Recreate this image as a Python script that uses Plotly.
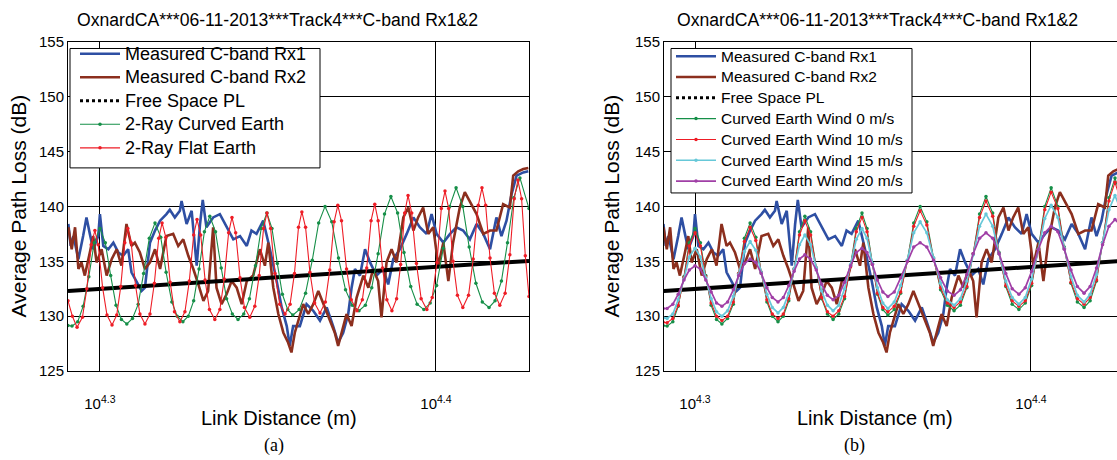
import numpy as np
import plotly.graph_objects as go

# ---------------- data (x given as log10 of link distance in metres) ----------------
rx1_logd = [4.2906, 4.2913, 4.2921, 4.2936, 4.2950, 4.2960, 4.2970, 4.2980, 4.2995, 4.3000,
            4.3010, 4.3025, 4.3040, 4.3055, 4.3069, 4.3084, 4.3094, 4.3109, 4.3124, 4.3134,
            4.3149, 4.3164, 4.3179, 4.3198, 4.3208, 4.3223, 4.3238, 4.3243, 4.3258, 4.3273,
            4.3288, 4.3298, 4.3306, 4.3317, 4.3337, 4.3357, 4.3377, 4.3397, 4.3417, 4.3437,
            4.3451, 4.3466, 4.3486, 4.3506, 4.3526, 4.3541, 4.3556, 4.3565, 4.3575, 4.3595,
            4.3615, 4.3635, 4.3655, 4.3675, 4.3694, 4.3709, 4.3724, 4.3739, 4.3749, 4.3759,
            4.3774, 4.3789, 4.3804, 4.3823, 4.3843, 4.3858, 4.3873, 4.3893, 4.3913, 4.3933,
            4.3952, 4.3972, 4.3987, 4.4002, 4.4022, 4.4042, 4.4061, 4.4081, 4.4101, 4.4121,
            4.4141, 4.4161, 4.4180, 4.4195, 4.4210, 4.4225, 4.4240, 4.4260, 4.4275]
rx1_pl = [138.4, 136.4, 137.3, 135.2, 137.3, 139.0, 137.5, 136.1, 137.3, 139.3,
          136.4, 136.1, 136.7, 135.8, 135.5, 136.1, 134.0, 133.2, 132.3, 132.6,
          136.7, 137.8, 138.7, 139.3, 139.7, 139.0, 139.6, 140.5, 138.4, 139.6,
          134.6, 138.4, 140.6, 138.1, 139.0, 139.3, 138.1, 137.0, 137.3, 136.4,
          137.8, 137.5, 138.7, 136.1, 133.2, 130.8, 129.1, 127.3, 129.1, 129.1,
          131.1, 130.5, 129.6, 130.8, 129.1, 127.6, 128.5, 130.2, 132.6, 134.3,
          133.7, 136.1, 134.9, 133.7, 134.3, 132.9, 135.2, 136.1, 137.5, 139.0,
          138.1, 137.5, 139.3, 137.5, 136.7, 137.5, 138.1, 137.8, 137.0, 138.4,
          137.5, 136.1, 139.0, 137.3, 138.7, 141.1, 142.8, 143.1, 143.2]

rx2_logd = [4.2906, 4.2916, 4.2926, 4.2936, 4.2945, 4.2955, 4.2970, 4.2980, 4.2990, 4.3005,
            4.3020, 4.3035, 4.3050, 4.3064, 4.3079, 4.3094, 4.3104, 4.3119, 4.3134, 4.3149,
            4.3164, 4.3179, 4.3198, 4.3218, 4.3233, 4.3248, 4.3263, 4.3278, 4.3293, 4.3308,
            4.3322, 4.3337, 4.3347, 4.3362, 4.3377, 4.3392, 4.3407, 4.3422, 4.3437, 4.3456,
            4.3476, 4.3491, 4.3501, 4.3516, 4.3531, 4.3546, 4.3560, 4.3570, 4.3580, 4.3590,
            4.3605, 4.3620, 4.3635, 4.3650, 4.3665, 4.3684, 4.3699, 4.3709, 4.3719, 4.3734,
            4.3749, 4.3764, 4.3784, 4.3799, 4.3813, 4.3828, 4.3838, 4.3853, 4.3868, 4.3883,
            4.3903, 4.3918, 4.3933, 4.3947, 4.3962, 4.3977, 4.3992, 4.4007, 4.4022, 4.4037,
            4.4051, 4.4071, 4.4086, 4.4101, 4.4121, 4.4141, 4.4161, 4.4180, 4.4200, 4.4220,
            4.4230, 4.4245, 4.4260, 4.4275]
rx2_pl = [138.1, 136.1, 138.1, 134.3, 134.9, 133.7, 135.8, 137.3, 134.9, 136.1,
          133.7, 135.2, 136.1, 134.6, 138.4, 136.4, 136.7, 135.8, 134.3, 134.9,
          136.1, 134.3, 137.3, 137.5, 136.4, 137.0, 135.5, 134.3, 132.9, 131.4,
          132.3, 138.1, 132.6, 131.1, 132.0, 133.2, 132.6, 131.1, 133.2, 133.7,
          136.1, 134.6, 136.7, 132.6, 130.2, 128.5, 127.6, 126.7, 128.5, 129.6,
          131.1, 130.2, 131.1, 132.3, 131.1, 129.6, 128.5, 127.3, 128.5, 130.2,
          129.1, 131.7, 133.7, 132.6, 134.3, 133.2, 129.9, 134.9, 136.1, 134.9,
          139.0, 139.9, 137.8, 139.0, 139.9, 137.5, 138.1, 134.6, 136.7, 133.2,
          136.7, 139.9, 141.3, 140.5, 139.3, 137.5, 137.8, 137.8, 140.2, 139.9,
          142.8, 143.2, 143.4, 143.5]

fspl_logd = [4.2905, 4.3500, 4.4000, 4.4277]
fspl_pl = [132.30, 133.49, 134.49, 135.04]

# 2-ray curved earth (same as curved earth, wind 0 m/s)
curved_logd = [4.2905, 4.2917,
               4.2934, 4.2950, 4.2967, 4.2983, 4.3000,
               4.3016, 4.3032, 4.3048, 4.3064, 4.3080,
               4.3097, 4.3114, 4.3130, 4.3147, 4.3164,
               4.3181, 4.3197, 4.3214, 4.3230, 4.3247,
               4.3263, 4.3279, 4.3295, 4.3311, 4.3327,
               4.3344, 4.3361, 4.3377, 4.3394, 4.3411,
               4.3428, 4.3445, 4.3463, 4.3480, 4.3497,
               4.3512, 4.3528, 4.3543, 4.3559, 4.3574,
               4.3593, 4.3612, 4.3632, 4.3651, 4.3670,
               4.3690, 4.3710, 4.3731, 4.3751, 4.3771,
               4.3790, 4.3809, 4.3828, 4.3847, 4.3866,
               4.3886, 4.3905, 4.3925, 4.3944, 4.3964,
               4.3983, 4.4002, 4.4022, 4.4041, 4.4060,
               4.4080, 4.4099, 4.4119, 4.4138, 4.4158,
               4.4176, 4.4195, 4.4213, 4.4232, 4.4250,
               4.4277]
curved_pl = [129.15, 129.1,
             129.5, 130.9, 133.6, 136.7, 138.0,
             136.7, 133.7, 131.0, 129.7, 129.3,
             129.8, 131.1, 133.9, 137.1, 138.5,
             137.2, 134.0, 131.3, 130.0, 129.5,
             130.0, 131.4, 134.3, 137.7, 139.1,
             137.7, 134.4, 131.6, 130.2, 129.7,
             130.2, 131.6, 134.6, 138.0, 139.4,
             138.0, 134.8, 132.0, 130.6, 130.1,
             130.6, 132.1, 135.1, 138.5, 140.0,
             138.6, 135.3, 132.4, 131.0, 130.5,
             131.0, 132.6, 135.7, 139.3, 140.9,
             139.4, 135.8, 132.7, 131.1, 130.6,
             131.2, 132.8, 136.2, 140.0, 141.7,
             140.0, 136.3, 133.0, 131.3, 130.8,
             131.4, 133.2, 136.7, 140.8, 142.6,
             139.8]
wind10_pl = [129.45, 129.4,
             129.8, 131.0, 133.5, 136.4, 137.6,
             136.4, 133.6, 131.2, 130.0, 129.6,
             130.0, 131.3, 133.9, 136.8, 138.1,
             136.9, 134.0, 131.5, 130.2, 129.8,
             130.2, 131.6, 134.3, 137.4, 138.7,
             137.4, 134.4, 131.7, 130.4, 130.0,
             130.5, 131.8, 134.5, 137.7, 139.0,
             137.7, 134.7, 132.1, 130.8, 130.4,
             130.9, 132.2, 135.0, 138.2, 139.6,
             138.3, 135.2, 132.6, 131.2, 130.8,
             131.3, 132.7, 135.7, 139.0, 140.5,
             139.1, 135.7, 132.8, 131.4, 130.9,
             131.4, 133.0, 136.1, 139.7, 141.3,
             139.8, 136.2, 133.1, 131.6, 131.1,
             131.7, 133.3, 136.7, 140.5, 142.2,
             139.5]
wind15_pl = [129.85, 129.8,
             130.2, 131.5, 133.4, 135.4, 136.2,
             135.4, 133.5, 131.6, 130.4, 130.0,
             130.5, 131.8, 133.8, 135.9, 136.8,
             136.0, 134.0, 132.0, 130.8, 130.3,
             130.8, 132.1, 134.3, 136.5, 137.4,
             136.5, 134.4, 132.3, 131.0, 130.5,
             131.0, 132.5, 134.7, 137.0, 138.0,
             137.1, 134.8, 132.6, 131.2, 130.7,
             131.3, 132.8, 135.1, 137.6, 138.6,
             137.6, 135.3, 133.0, 131.5, 131.0,
             131.6, 133.2, 135.6, 138.2, 139.3,
             138.2, 135.7, 133.2, 131.7, 131.1,
             131.7, 133.4, 136.1, 138.9, 140.1,
             139.0, 136.2, 133.6, 131.9, 131.3,
             132.0, 133.8, 136.7, 139.7, 141.0,
             138.9]
wind20_pl = [130.7, 130.7,
             131.1, 132.0, 133.3, 134.2, 134.6,
             134.3, 133.3, 132.2, 131.2, 130.9,
             131.3, 132.4, 133.7, 134.8, 135.2,
             134.9, 133.9, 132.6, 131.7, 131.3,
             131.7, 132.8, 134.1, 135.2, 135.6,
             135.2, 134.2, 132.9, 131.9, 131.5,
             131.9, 133.1, 134.6, 135.8, 136.2,
             135.8, 134.7, 133.3, 132.2, 131.8,
             132.2, 133.5, 135.0, 136.3, 136.7,
             136.3, 135.1, 133.5, 132.3, 131.9,
             132.4, 133.8, 135.7, 137.1, 137.6,
             137.1, 135.7, 133.9, 132.5, 132.0,
             132.6, 134.1, 136.1, 137.6, 138.2,
             137.7, 136.1, 134.2, 132.7, 132.1,
             132.7, 134.4, 136.5, 138.2, 138.8,
             138.0]

# 2-ray flat earth
flat_logd = [4.2905, 4.2918, 4.2932,
             4.2948, 4.2961, 4.2974, 4.2985, 4.2995, 4.3008, 4.3021, 4.3036,
             4.3050, 4.3062, 4.3074, 4.3083, 4.3093, 4.3106, 4.3119, 4.3134,
             4.3149, 4.3162, 4.3175, 4.3185, 4.3196, 4.3209, 4.3222, 4.3238,
             4.3253, 4.3266, 4.3279, 4.3289, 4.3300, 4.3313, 4.3326, 4.3342,
             4.3357, 4.3370, 4.3383, 4.3393, 4.3404, 4.3417, 4.3430, 4.3446,
             4.3461, 4.3474, 4.3487, 4.3497, 4.3508, 4.3521, 4.3535, 4.3551,
             4.3566, 4.3579, 4.3591, 4.3601, 4.3612, 4.3625, 4.3639, 4.3655,
             4.3671, 4.3684, 4.3697, 4.3708, 4.3719, 4.3734, 4.3748, 4.3765,
             4.3781, 4.3794, 4.3807, 4.3818, 4.3828, 4.3841, 4.3854, 4.3869,
             4.3883, 4.3895, 4.3907, 4.3917, 4.3928, 4.3942, 4.3956, 4.3973,
             4.3989, 4.4003, 4.4016, 4.4027, 4.4038, 4.4051, 4.4064, 4.4080,
             4.4097, 4.4111, 4.4126, 4.4137, 4.4148, 4.4161, 4.4174, 4.4190,
             4.4206, 4.4220, 4.4233, 4.4244, 4.4255, 4.4266, 4.4277]
flat_pl = [131.4, 130.0, 129.0,
           129.9, 132.5, 136.5, 137.8, 136.5, 132.6, 130.1, 129.2,
           130.1, 132.7, 136.7, 138.0, 136.7, 132.8, 130.2, 129.3,
           130.2, 133.0, 137.1, 138.5, 137.2, 133.1, 130.4, 129.5,
           130.4, 133.2, 137.4, 138.8, 137.4, 133.3, 130.6, 129.7,
           130.6, 133.4, 137.6, 139.0, 137.6, 133.5, 130.8, 129.9,
           130.9, 133.7, 138.0, 139.4, 138.0, 133.9, 131.1, 130.2,
           131.1, 133.9, 138.1, 139.5, 138.1, 134.0, 131.2, 130.3,
           131.3, 134.2, 138.6, 140.1, 138.7, 134.3, 131.5, 130.5,
           131.5, 134.4, 138.7, 140.2, 138.7, 134.4, 131.5, 130.5,
           131.6, 134.7, 139.4, 141.0, 139.4, 134.8, 131.6, 130.6,
           131.7, 134.9, 139.8, 141.4, 139.8, 135.0, 131.9, 130.8,
           131.9, 135.2, 140.1, 141.7, 140.1, 135.3, 132.1, 131.0,
           132.1, 135.6, 140.7, 142.4, 140.7, 135.5, 131.8]

x_tick_exp = [4.3, 4.4]
x_tick_text = ["10<sup>4.3</sup>", "10<sup>4.4</sup>"]
y_ticks = [125, 130, 135, 140, 145, 150, 155]
title_text = "OxnardCA***06-11-2013***Track4***C-band Rx1&2"

# ---------------- styling ----------------
W, H = 1117, 460
FONT = "Liberation Sans, Arial, sans-serif"
C_BLUE = "#2E4FA3"
C_BROWN = "#8C2F1E"
C_GREEN = "#168F48"
C_RED = "#EE1D26"
C_CYAN = "#66C8D8"
C_PURPLE = "#A03FA6"


def px_x(p):
    return p / W


def px_y(p):
    return 1 - p / H


def d(logs):
    return 10 ** np.array(logs)


fig = go.Figure()


def lab(text, size):
    return '<span style="font-size:%spx">%s</span>' % (size, text)


def add(panel, x, y, name, color, width, legend, lsize, markers=False, msize=3.5, show=True):
    xa, ya = ("x", "y") if panel == 1 else ("x2", "y2")
    fig.add_trace(go.Scatter(
        x=d(x), y=y, name=lab(name, lsize), xaxis=xa, yaxis=ya,
        mode="lines+markers" if markers else "lines",
        line=dict(color=color, width=width),
        marker=dict(color=color, size=msize),
        legend=legend, showlegend=show))


def add_fspl_legend(panel, legend, lsize):
    xa, ya = ("x", "y") if panel == 1 else ("x2", "y2")
    fig.add_trace(go.Scatter(
        x=[None], y=[None], name=lab("Free Space PL", lsize), xaxis=xa, yaxis=ya,
        mode="lines", line=dict(color="black", width=3, dash="dot"),
        legend=legend, showlegend=True))


L1, L2 = 18, 15.5

# panel (a)
add(1, rx1_logd, rx1_pl, "Measured C-band Rx1", C_BLUE, 2.6, "legend", L1)
add(1, rx2_logd, rx2_pl, "Measured C-band Rx2", C_BROWN, 2.6, "legend", L1)
add(1, fspl_logd, fspl_pl, "Free Space PL", "black", 4, "legend", L1, show=False)
add_fspl_legend(1, "legend", L1)
add(1, curved_logd, curved_pl, "2-Ray Curved Earth", C_GREEN, 1.1, "legend", L1, markers=True)
add(1, flat_logd, flat_pl, "2-Ray Flat Earth", C_RED, 1.1, "legend", L1, markers=True)

# panel (b)
add(2, rx1_logd, rx1_pl, "Measured C-band Rx1", C_BLUE, 2.6, "legend2", L2)
add(2, rx2_logd, rx2_pl, "Measured C-band Rx2", C_BROWN, 2.6, "legend2", L2)
add(2, fspl_logd, fspl_pl, "Free Space PL", "black", 4, "legend2", L2, show=False)
add_fspl_legend(2, "legend2", L2)
add(2, curved_logd, curved_pl, "Curved Earth Wind 0 m/s", C_GREEN, 1.1, "legend2", L2, markers=True)
add(2, curved_logd, wind10_pl, "Curved Earth Wind 10 m/s", C_RED, 1.1, "legend2", L2, markers=True)
add(2, curved_logd, wind15_pl, "Curved Earth Wind 15 m/s", C_CYAN, 1.7, "legend2", L2, markers=True)
add(2, curved_logd, wind20_pl, "Curved Earth Wind 20 m/s", C_PURPLE, 1.7, "legend2", L2, markers=True)

y_dom = [px_y(376), px_y(34)]
common_x = dict(type="log", tickvals=list(d(x_tick_exp)), ticktext=x_tick_text,
                showgrid=True, gridcolor="black", gridwidth=1, zeroline=False,
                showline=True, linecolor="black", linewidth=1, ticks="",
                ticklabelstandoff=19,
                tickfont=dict(family=FONT, size=15, color="black"))
common_y = dict(range=[125, 155], tickvals=y_ticks, showgrid=True, gridcolor="black",
                gridwidth=1, zeroline=False, showline=True, linecolor="black",
                linewidth=1, ticks="", tickfont=dict(family=FONT, size=15, color="black"))

leg_common = dict(xanchor="left", yanchor="top", bgcolor="rgba(0,0,0,0)",
                  borderwidth=0, tracegroupgap=0, itemwidth=40)

fig.update_layout(
    width=W, height=H, autosize=False,
    margin=dict(l=0, r=0, t=0, b=0),
    paper_bgcolor="white", plot_bgcolor="white",
    font=dict(family=FONT, color="black"),
    xaxis=dict(domain=[px_x(68), px_x(529)], range=[4.2905, 4.4277], anchor="y",
               mirror=True, **common_x),
    yaxis=dict(domain=y_dom, anchor="x", mirror=True, **common_y),
    xaxis2=dict(domain=[px_x(664), 1.0], range=[4.29077, 4.4256], anchor="y2",
                mirror=True, **common_x),
    yaxis2=dict(domain=y_dom, anchor="x2", mirror=False, **common_y),
    legend=dict(x=px_x(75), y=px_y(29), font=dict(family=FONT, size=15.8, color="black"),
                **leg_common),
    legend2=dict(x=px_x(671), y=px_y(33), font=dict(family=FONT, size=13.7, color="black"),
                 **leg_common),
    showlegend=True,
)

# legend frames (white boxes with black border, legends sit on top)
shapes = []
for (x0, x1, y0, y1) in [(70, 320, 41, 165), (671, 912, 41, 191)]:
    shapes.append(dict(type="rect", xref="paper", yref="paper",
                       x0=px_x(x0), x1=px_x(x1), y0=px_y(y1), y1=px_y(y0),
                       fillcolor="white", line=dict(color="black", width=1), layer="above"))
fig.update_layout(shapes=shapes)

ann = []
for cx in [277, 877]:
    ann.append(dict(x=px_x(cx), y=px_y(11), xref="paper", yref="paper",
                    xanchor="center", yanchor="middle",
                    text=title_text, showarrow=False,
                    font=dict(family=FONT, size=17.6, color="black")))
for cx in [279, 875]:
    ann.append(dict(x=px_x(cx), y=px_y(425), xref="paper", yref="paper",
                    xanchor="center", yanchor="middle",
                    text="Link Distance (m)", showarrow=False,
                    font=dict(family=FONT, size=20, color="black")))
for cx, labtxt in [(274, "(a)"), (854, "(b)")]:
    ann.append(dict(x=px_x(cx), y=px_y(453), xref="paper", yref="paper",
                    xanchor="center", yanchor="middle",
                    text=labtxt, showarrow=False,
                    font=dict(family="Liberation Serif, Times New Roman, serif", size=18, color="black")))
for cx in [18, 611]:
    ann.append(dict(x=px_x(cx), y=px_y(205), xref="paper", yref="paper",
                    xanchor="center", yanchor="middle",
                    text="Average Path Loss (dB)", showarrow=False, textangle=-90,
                    font=dict(family=FONT, size=21, color="black")))
fig.update_layout(annotations=ann)

fig.write_html("out.html")
